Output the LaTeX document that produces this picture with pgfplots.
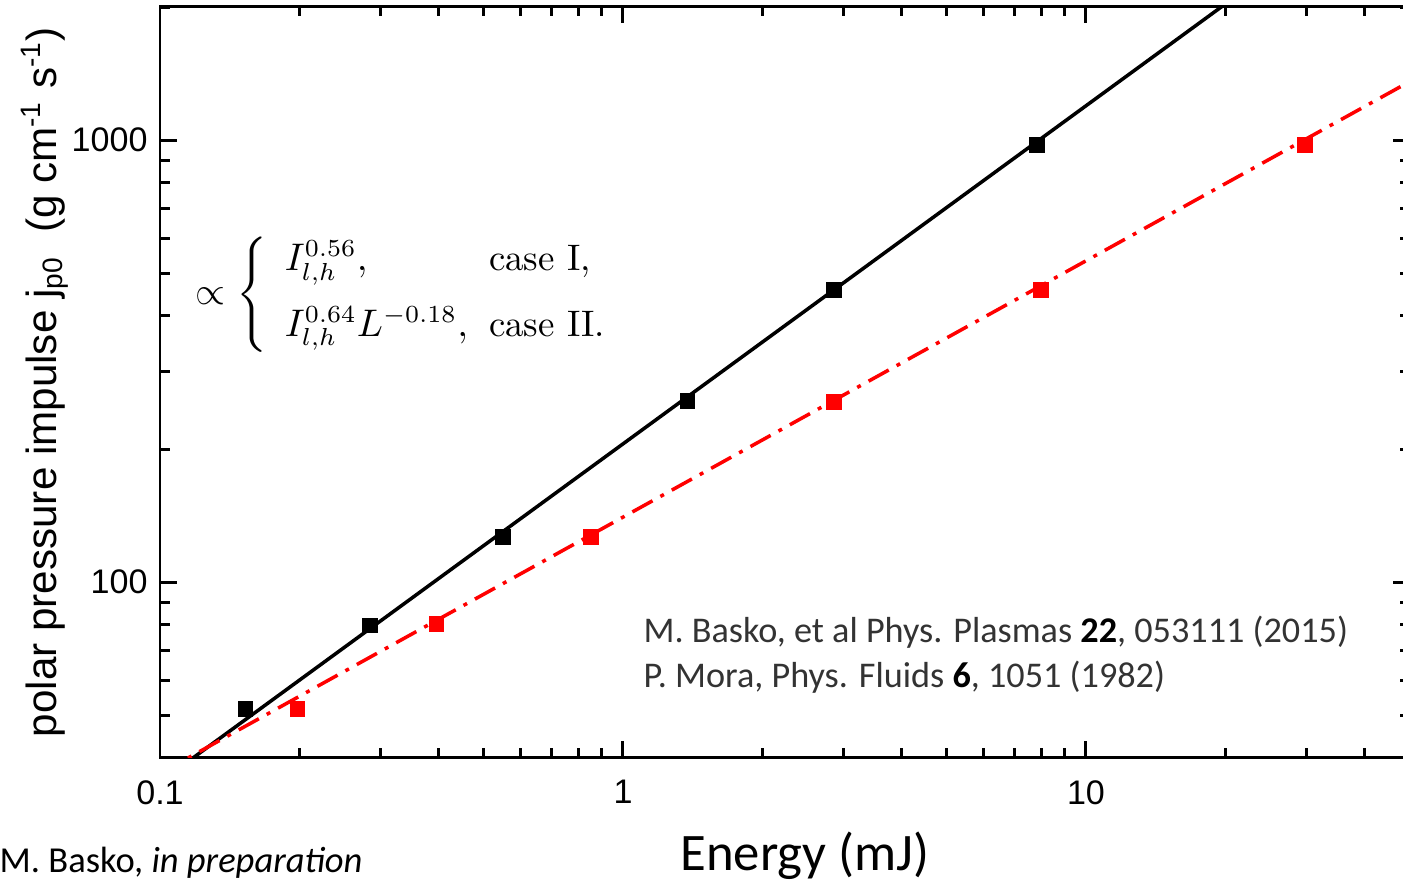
\documentclass[border=0pt]{standalone}
\usepackage{amsmath}
\usepackage{fontspec}
\usepackage{pgfplots}
\pgfplotsset{compat=1.18}
\newfontfamily\arialf{Liberation Sans}
\newfontfamily\calib{Carlito}

\pgfplotstableread{
x y
0.153 51.6
0.284 79.9
0.551 126.4
1.38 256.8
2.857 457.8
7.84 974.3
}\blackpts
\pgfplotstableread{
x y
0.198 51.6
0.396 80.4
0.853 126.4
2.857 255.5
8.0 457.8
29.7 974.3
}\redpts

\begin{document}
\begin{tikzpicture}
\useasboundingbox (0,0) rectangle (14.03,8.81);
\clip (0,0) rectangle (14.03,8.81);
\begin{axis}[
  at={(1.6cm,1.23cm)}, anchor=south west,
  scale only axis,
  width=12.496cm, height=7.519cm,
  xmode=log, ymode=log,
  xmin=0.1, xmax=50, ymin=40, ymax=2010,
  xtick={0.1,1,10}, xticklabels={0.1,1,10},
  ytick={100,1000}, yticklabels={100,1000},
  minor xtick={0.2,0.3,0.4,0.5,0.6,0.7,0.8,0.9,2,3,4,5,6,7,8,9,20,30,40,50},
  minor ytick={50,60,70,80,90,200,300,400,500,600,700,800,900,2000},
  tick align=inside,
  major tick length=0.17cm, minor tick length=0.1cm,
  axis line style={line width=0.85pt, black},
  every tick/.style={line width=0.85pt, black},
  ticklabel style={font=\arialf\fontsize{9.7}{11}\selectfont, black},
  xticklabel style={yshift=-0.1cm},
  ylabel={polar pressure impulse j\textsubscript{p0}\ \ (g cm\textsuperscript{-1} s\textsuperscript{-1})},
  ylabel style={font=\arialf\fontsize{12}{14}\selectfont, at={(axis description cs:-0.092,0.5)}, anchor=center, rotate=0},
  xlabel={Energy (mJ)},
  xlabel style={font=\calib\fontsize{15}{18}\selectfont, at={(axis description cs:0.516,-0.1503)}, anchor=base},
]
\addplot[black, line width=1pt] coordinates {(0.1,35.3) (25,2410)};
\addplot[red, line width=1pt, dash pattern=on 0.23cm off 0.09cm on 0.04cm off 0.09cm] coordinates {(0.1,36.9) (50,1356)};
\addplot[only marks, mark=square*, mark size=0.07cm, black] table {\blackpts};
\addplot[only marks, mark=square*, mark size=0.07cm, red] table {\redpts};
\end{axis}
\node[anchor=west, inner sep=0pt, font=\fontsize{10.5}{12.6}\selectfont] at (1.95,5.86)
  {$\propto\left\{\begin{array}{l@{\hspace{6pt}}l} I_{l,h}^{0.56}, & \text{case I,}\\[6pt] I_{l,h}^{0.64}L^{-0.18}, & \text{case II.}\end{array}\right.$};
\node[anchor=base west, inner sep=0pt, font=\calib\fontsize{10.3}{12}\selectfont, text=black!80] at (6.43,2.38)
  {M. Basko, et al Phys. Plasmas \textcolor{black}{\textbf{22}}, 053111 (2015)};
\node[anchor=base west, inner sep=0pt, font=\calib\fontsize{10.3}{12}\selectfont, text=black!80] at (6.43,1.93)
  {P. Mora, Phys. Fluids \textcolor{black}{\textbf{6}}, 1051 (1982)};
\node[anchor=base west, inner sep=0pt, font=\calib\fontsize{10.4}{12}\selectfont] at (-0.01,0.08)
  {M. Basko, \textit{in preparation}};
\end{tikzpicture}
\end{document}
